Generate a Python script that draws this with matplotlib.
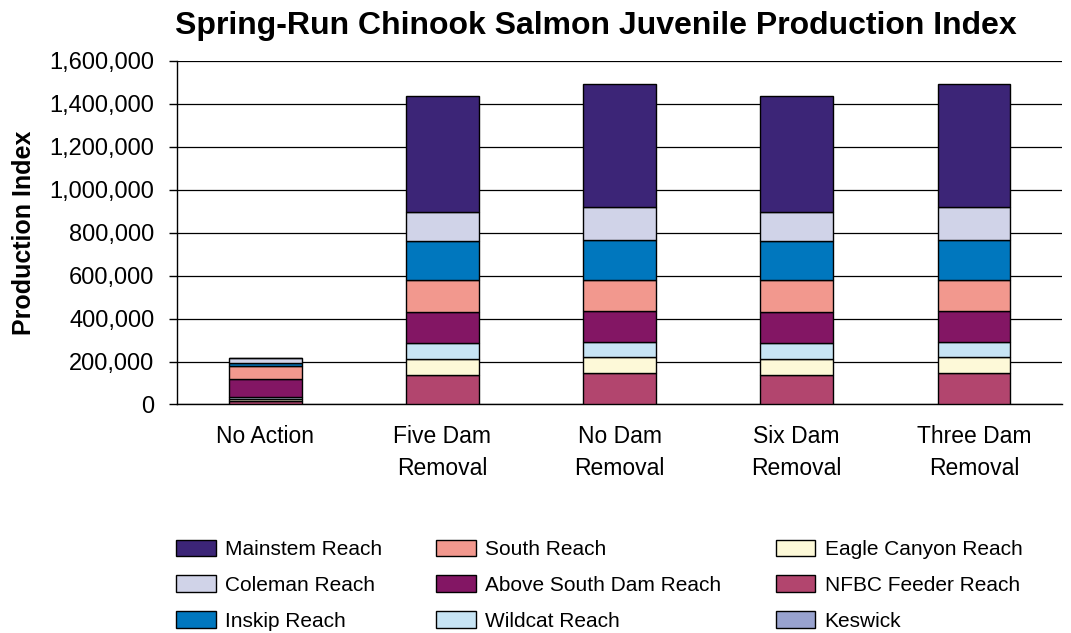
import matplotlib.pyplot as plt
import numpy as np
from matplotlib.ticker import FuncFormatter

plt.rcParams['font.family'] = ['Liberation Sans', 'DejaVu Sans']

scenarios = ["No Action", "Five Dam\nRemoval", "No Dam\nRemoval", "Six Dam\nRemoval", "Three Dam\nRemoval"]

# stacking order, bottom to top
keswick = [3000, 0, 0, 0, 0]
nfbc_feeder = [14000, 137000, 145000, 137000, 145000]
eagle_canyon = [9000, 73000, 75000, 73000, 75000]
wildcat = [9000, 75000, 73000, 75000, 73000]
above_south_dam = [82000, 147000, 142000, 147000, 142000]
south = [64000, 148000, 145000, 148000, 145000]
inskip = [14000, 182000, 186000, 182000, 186000]
coleman = [22000, 136000, 152000, 136000, 152000]
mainstem = [0, 539000, 575000, 539000, 575000]

series = [
    ("Keswick", keswick, "#99a3cf"),
    ("NFBC Feeder Reach", nfbc_feeder, "#b2456e"),
    ("Eagle Canyon Reach", eagle_canyon, "#fdf9d8"),
    ("Wildcat Reach", wildcat, "#c7e4f4"),
    ("Above South Dam Reach", above_south_dam, "#831664"),
    ("South Reach", south, "#f2988e"),
    ("Inskip Reach", inskip, "#0077be"),
    ("Coleman Reach", coleman, "#d0d3e8"),
    ("Mainstem Reach", mainstem, "#3c2577"),
]

fig = plt.figure(figsize=(10.71, 6.33), dpi=100)
ax = fig.add_axes([0.165, 0.361, 0.827, 0.543])

x = np.arange(len(scenarios))
bottom = np.zeros(len(scenarios))
handles = {}
for name, vals, color in series:
    vals = np.array(vals, dtype=float)
    bars = ax.bar(x, vals, width=0.41, bottom=bottom, color=color,
                  edgecolor="black", linewidth=1.0, zorder=3)
    handles[name] = bars
    bottom += vals

ax.set_xlim(-0.5, len(scenarios) - 0.5)
ax.set_ylim(0, 1600000)
ax.set_yticks(np.arange(0, 1600001, 200000))
ax.yaxis.set_major_formatter(FuncFormatter(lambda v, p: f"{int(v):,}"))
ax.yaxis.grid(True, color="black", linewidth=0.9, zorder=0)
ax.set_axisbelow(True)
ax.set_xticks(x)
ax.set_xticklabels(scenarios, fontsize=16.5, linespacing=1.5)
ax.tick_params(axis="x", length=0, pad=15)
ax.tick_params(axis="y", labelsize=17, length=6, width=1, direction="out", pad=10)

for s in ["top", "right"]:
    ax.spines[s].set_visible(False)
ax.spines["left"].set_linewidth(1.0)
ax.spines["bottom"].set_linewidth(1.0)

ax.set_ylabel("Production Index", fontsize=18, fontweight="bold", labelpad=10)
fig.suptitle("Spring-Run Chinook Salmon Juvenile Production Index",
             fontsize=23, fontweight="bold", x=0.556, y=0.983)

order = ["Mainstem Reach", "Coleman Reach", "Inskip Reach",
         "South Reach", "Above South Dam Reach", "Wildcat Reach",
         "Eagle Canyon Reach", "NFBC Feeder Reach", "Keswick"]
leg = fig.legend([handles[n] for n in order], order, ncol=3,
                 loc="upper left", bbox_to_anchor=(0.147, 0.177),
                 frameon=False, fontsize=15, handlelength=1.9,
                 handleheight=0.85, handletextpad=0.45,
                 labelspacing=0.78, columnspacing=2.6)

plt.savefig("out.png", dpi=100)
plt.close()
